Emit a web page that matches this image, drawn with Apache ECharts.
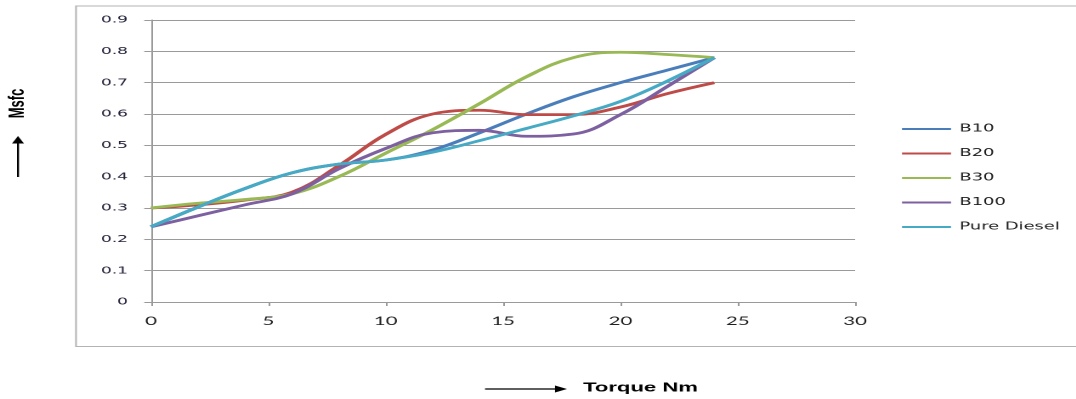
<!DOCTYPE html>
<html>
<head>
<meta charset="utf-8">
<script src="https://cdn.jsdelivr.net/npm/echarts@6/dist/echarts.min.js"></script>
<style>
  html, body { margin: 0; padding: 0; background: #fff; overflow: hidden; }
  #wrap { width: 1076px; height: 399px; overflow: hidden; position: relative; }
  #chart { height: 399px; transform-origin: 0 0; }
</style>
</head>
<body>
<div id="wrap"><div id="chart"></div></div>
<script>
// Torque (Nm) and specific fuel consumption for each fuel blend
const torque = [0, 2, 4, 6, 8, 10, 12, 14, 16, 18, 20, 22, 24];
const b10 = [0.24, 0.303, 0.362, 0.412, 0.44, 0.453, 0.485, 0.54, 0.60, 0.655, 0.70, 0.74, 0.78];
const b20 = [0.30, 0.31, 0.325, 0.35, 0.435, 0.535, 0.60, 0.612, 0.598, 0.598, 0.622, 0.665, 0.70];
const b30 = [0.30, 0.315, 0.327, 0.345, 0.40, 0.475, 0.55, 0.633, 0.719, 0.78, 0.797, 0.79, 0.78];
const b100 = [0.24, 0.275, 0.31, 0.345, 0.425, 0.49, 0.54, 0.548, 0.529, 0.536, 0.598, 0.688, 0.78];
const pureDiesel = [0.24, 0.303, 0.362, 0.412, 0.44, 0.453, 0.478, 0.515, 0.554, 0.594, 0.64, 0.705, 0.78];

const seriesNames = ['B10', 'B20', 'B30', 'B100', 'Pure Diesel'];
const seriesValues = [b10, b20, b30, b100, pureDiesel];
const seriesColors = ['#4a7ebb', '#be4b48', '#98b954', '#7d60a0', '#46aac5'];

const xTicks = { min: 0, max: 30, step: 5 };
const yTicks = { min: 0, max: 0.9, step: 0.1 };

// The drawing is laid out narrow and widened horizontally as a whole.
const STRETCH = 1.7;
const PAGE_W = 1076;
const W = PAGE_W / STRETCH;
const X = px => px / STRETCH;   // page x -> layout x

const el = document.getElementById('chart');
el.style.width = W + 'px';
el.style.transform = 'scaleX(' + STRETCH + ')';

const chart = echarts.init(el, null, { renderer: 'canvas', devicePixelRatio: 2 });

const axisGray = '#9a9a9a';

const option = {
  animation: false,
  backgroundColor: '#ffffff',
  color: seriesColors,
  grid: {
    left: X(151),
    right: W - X(855),
    top: 20,
    bottom: 97,
    containLabel: false
  },
  xAxis: {
    type: 'value',
    min: xTicks.min,
    max: xTicks.max,
    interval: xTicks.step,
    axisLine: { show: true, onZero: false, lineStyle: { color: axisGray, width: 1 } },
    axisTick: { show: true, inside: false, length: 4, lineStyle: { color: axisGray } },
    splitLine: { show: false },
    axisLabel: {
      margin: 13,
      color: '#1e1e1e',
      fontFamily: 'Lato',
      fontSize: 12
    }
  },
  yAxis: {
    type: 'value',
    min: yTicks.min,
    max: yTicks.max,
    interval: yTicks.step,
    axisLine: { show: true, lineStyle: { color: axisGray, width: 1 } },
    axisTick: { show: true, inside: false, length: 4, lineStyle: { color: axisGray } },
    splitLine: { show: true, lineStyle: { color: axisGray, width: 1 } },
    axisLabel: {
      margin: X(151) - X(128),
      color: '#22223a',
      fontFamily: 'DejaVu Sans',
      fontSize: 10,
      formatter: v => (v === 0 ? '0' : v.toFixed(1))
    }
  },
  legend: {
    orient: 'vertical',
    left: X(902),
    top: 122,
    padding: 0,
    icon: 'rect',
    itemWidth: X(951) - X(902),
    itemHeight: 2,
    itemGap: 10.5,
    textStyle: {
      fontFamily: 'DejaVu Sans',
      fontSize: 10.5,
      lineHeight: 14,
      color: '#1e1e1e'
    },
    data: seriesNames
  },
  series: seriesNames.map((name, i) => ({
    name: name,
    type: 'line',
    smooth: 0.4,
    symbol: 'none',
    showSymbol: false,
    lineStyle: { width: 2.8, color: seriesColors[i] },
    itemStyle: { color: seriesColors[i] },
    data: torque.map((t, k) => [t, seriesValues[i][k]])
  })),
  graphic: [
    // outer chart frame
    {
      type: 'rect',
      silent: true,
      shape: { x: X(76), y: 6, width: W, height: 340.5 },
      style: { fill: 'none', stroke: '#b4b4b4', lineWidth: 1 }
    },
    // vertical axis title with upward arrow
    {
      type: 'text',
      silent: true,
      x: X(18),
      y: 103.5,
      rotation: Math.PI / 2,
      style: {
        text: 'Msfc',
        fontFamily: 'Liberation Sans',
        fontWeight: 'bold',
        fontSize: 13,
        fill: '#000',
        align: 'center',
        verticalAlign: 'middle'
      }
    },
    {
      type: 'line',
      silent: true,
      shape: { x1: X(18), y1: 177, x2: X(18), y2: 141 },
      style: { stroke: '#000', lineWidth: 1.2 }
    },
    {
      type: 'polygon',
      silent: true,
      shape: { points: [[X(18), 136], [X(12), 143.5], [X(24), 143.5]] },
      style: { fill: '#000' }
    },
    // horizontal axis title with right arrow
    {
      type: 'line',
      silent: true,
      shape: { x1: X(485), y1: 389, x2: X(560), y2: 389 },
      style: { stroke: '#000', lineWidth: 1.3 }
    },
    {
      type: 'polygon',
      silent: true,
      shape: { points: [[X(567), 389], [X(555), 385.5], [X(555), 392.5]] },
      style: { fill: '#000' }
    },
    {
      type: 'text',
      silent: true,
      x: X(583),
      y: 388,
      style: {
        text: 'Torque Nm',
        fontFamily: 'Liberation Sans',
        fontWeight: 'bold',
        fontSize: 13,
        fill: '#000',
        align: 'left',
        verticalAlign: 'middle'
      }
    }
  ]
};

chart.setOption(option);
</script>
</body>
</html>
